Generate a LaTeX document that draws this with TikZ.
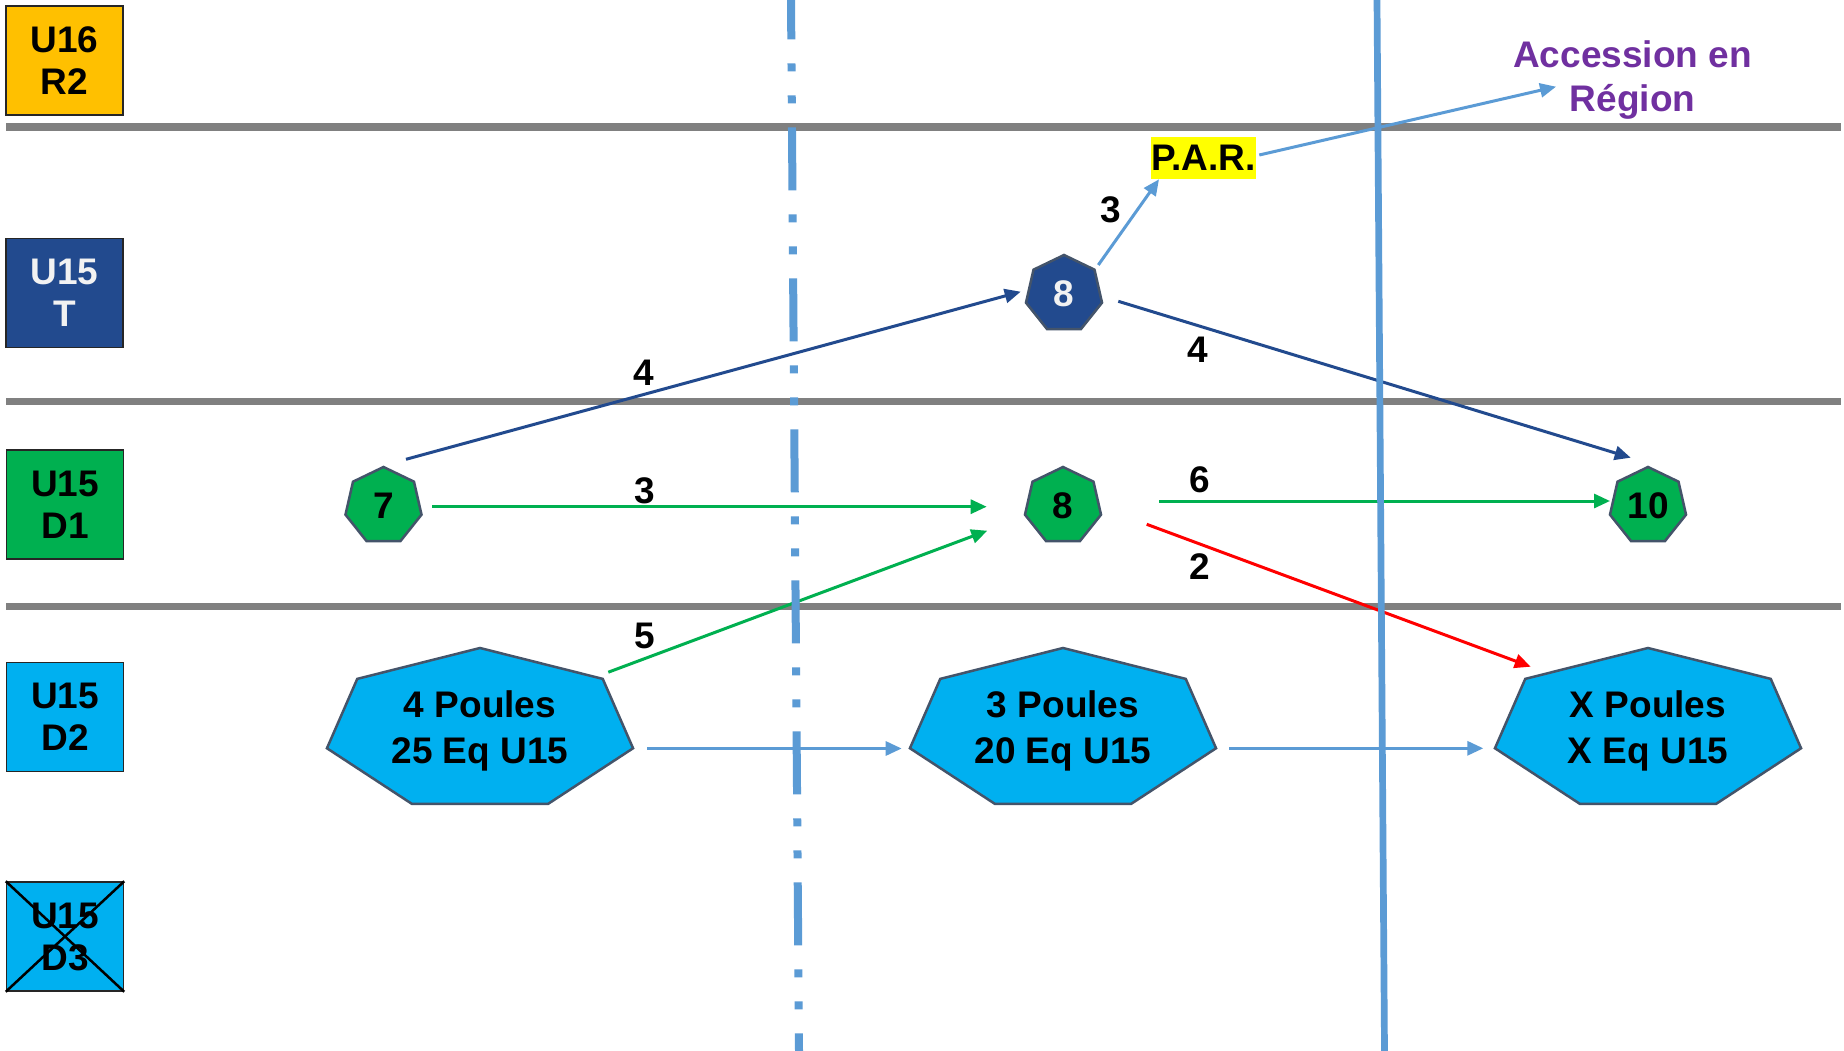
\documentclass[tikz,border=0pt]{standalone}
\usepackage{fontspec}
\setmainfont{Liberation Sans}
\usetikzlibrary{arrows.meta,shapes.geometric,calc}
\definecolor{orangeB}{HTML}{FFC000}
\definecolor{dblue}{RGB}{34,74,142}
\definecolor{gfill}{HTML}{00B050}
\definecolor{lfill}{HTML}{00B0F0}
\definecolor{lline}{HTML}{5B9BD5}
\definecolor{purp}{HTML}{7030A0}
\definecolor{gline}{HTML}{808080}
\definecolor{hborder}{RGB}{68,84,106}
\definecolor{yel}{HTML}{FFFF00}
\newcommand\bighept[1]{\draw[bigh] ($(#1)+(90:157pt and 82pt)$) -- ($(#1)+(141.43:157pt and 82pt)$) -- ($(#1)+(192.86:157pt and 82pt)$) -- ($(#1)+(244.29:157pt and 82pt)$) -- ($(#1)+(295.71:157pt and 82pt)$) -- ($(#1)+(347.14:157pt and 82pt)$) -- ($(#1)+(38.57:157pt and 82pt)$) -- cycle;}
\begin{document}
\begin{tikzpicture}[x=1pt,y=-1pt,
  txt/.style={font=\fontsize{37}{42}\selectfont\bfseries, inner sep=0pt, align=center},
  lbox/.style={txt, rectangle, draw=black!85, line width=1.5pt, minimum width=117pt, minimum height=109pt},
  hsmall/.style={txt, regular polygon, regular polygon sides=7, minimum size=78pt, draw=hborder, line width=2.5pt},
  bigh/.style={draw=hborder, line width=2.5pt, fill=lfill},
  bigtext/.style={txt, font=\fontsize{37}{45.6}\selectfont\bfseries},
  lbl/.style={txt},
  conn/.style={line width=3pt, -{Triangle[length=16pt,width=14pt]}},
  darkc/.style={conn, draw=dblue},
  greenc/.style={conn, draw=gfill},
  redc/.style={conn, draw=red},
  lightc/.style={conn, draw=lline},
  sep/.style={line width=7.3pt, draw=gline}
]
\useasboundingbox (0,0) rectangle (1844,1051);
\fill[white] (0,0) rectangle (1844,1051);

% horizontal separators
\draw[sep] (6,127) -- (1841,127);
\draw[sep] (6,401.3) -- (1841,401.3);
\draw[sep] (6,606.2) -- (1841,606.2);

% level boxes
\node[lbox, fill=orangeB] (r2) at (64.5,60.5) {U16\\R2};
\node[lbox, fill=dblue, text=white!95!black] (t) at (64.5,293) {U15\\T};
\node[lbox, fill=gfill] (d1) at (65,504.5) {U15\\D1};
\node[lbox, fill=lfill] (d2) at (65,717) {U15\\D2};
\node[lbox, fill=lfill] (d3) at (65,936.5) {U15\\D3};
\draw[line width=2.5pt, black] (d3.north west) -- (d3.south east);
\draw[line width=2.5pt, black] (d3.south west) -- (d3.north east);

% small heptagons
\node[hsmall, fill=gfill] (n7) at (383.5,506) {7};
\node[hsmall, fill=gfill] (g8) at (1063,506) {8};
\node[hsmall, fill=gfill] (g10) at (1648,506) {10};
\node[hsmall, fill=dblue, text=white!95!black] (b8) at (1064,294) {8};

% big heptagons
\coordinate (c4) at (480,730);
\coordinate (c3) at (1063,730);
\coordinate (cx) at (1648,730);
\bighept{c4}
\bighept{c3}
\bighept{cx}
\node[bigtext] (p4) at (480,731) {4 Poules\\25 Eq U15};
\node[bigtext] (p3) at (1063,731) {3 Poules\\20 Eq U15};
\node[bigtext] (px) at (1648,731) {X Poules\\X Eq U15};

% P.A.R. and accession
\node[txt, fill=yel, minimum width=105pt, minimum height=42pt] (par) at (1203.5,158) {P.A.R.};
\node[txt, font=\fontsize{37}{44.3}\selectfont\bfseries, text=purp] (acc) at (1632.5,80) {Accession en\\Région};

% connectors
\draw[darkc] ($(n7)+(22.5,-46.7)$) -- ($(b8)+(-43.3,-2.3)$);
\draw[greenc] ($(n7)+(48.8,0.7)$) -- ($(g8)+(-76.3,0.7)$);
\draw[greenc] ($(c4)+(128.3,-57.8)$) -- ($(g8)+(-75.7,24.7)$);
\draw[lightc] ($(c4)+(167.3,18.5)$) -- ($(c3)+(-161.3,18.5)$);
\draw[lightc] ($(c3)+(166.3,18.3)$) -- ($(cx)+(-164.7,18.3)$);
\draw[lightc] ($(b8)+(34.3,-29)$) -- ($(par)+(-44.5,21.3)$);
\draw[lightc] ($(par)+(55.8,-3)$) -- ($(acc)+(-76.5,6.7)$);
\draw[darkc] ($(b8)+(54.3,7.3)$) -- ($(g10)+(-17.3,-48.3)$);
\draw[greenc] ($(g8)+(96.3,-5)$) -- ($(g10)+(-38,-5)$);
\draw[redc] ($(g8)+(83.7,18.3)$) -- ($(cx)+(-117.3,-63.3)$);

% connector labels
\node[lbl] (l1) at (644,373) {4};
\node[lbl] (l2) at (645,490.7) {3};
\node[lbl] (l3) at (645,635.7) {5};
\node[lbl] (l4) at (1111,210) {3};
\node[lbl] (l5) at (1197.3,350) {4};
\node[lbl] (l6) at (1199.3,480) {6};
\node[lbl] (l7) at (1199.3,566.7) {2};

% vertical separators
\draw[line width=8pt, draw=lline, dash pattern=on 63pt off 24pt on 8pt off 24pt on 8pt off 24pt, dash phase=23.7pt] (791,0) -- (799,1051);
\draw[line width=6.7pt, draw=lline] (1377,0) -- (1384.5,1051);
\end{tikzpicture}
\end{document}
